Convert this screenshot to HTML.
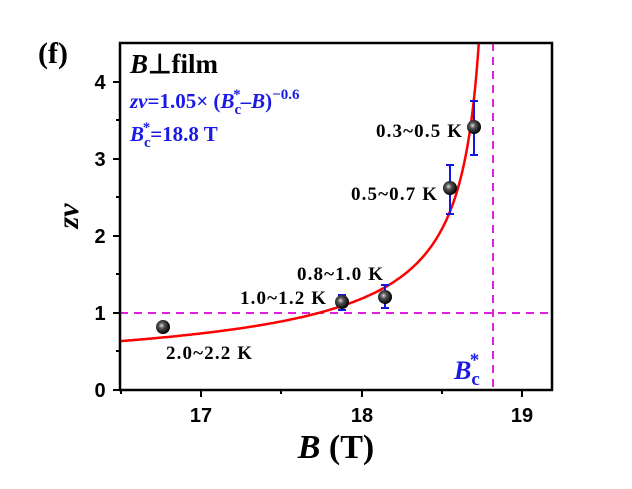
<!DOCTYPE html>
<html><head><meta charset="utf-8"><style>
body{margin:0;background:#fff;width:632px;height:484px;overflow:hidden}
svg text{font-family:"Liberation Serif",serif;font-weight:bold}
svg text.s{font-family:"Liberation Sans",sans-serif}
</style></head><body>
<svg width="632" height="484" viewBox="0 0 632 484" xmlns="http://www.w3.org/2000/svg">
<defs><radialGradient id="g" cx="0.4" cy="0.4" r="0.6"><stop offset="0" stop-color="#ddd"/><stop offset="0.35" stop-color="#555"/><stop offset="1" stop-color="#000"/></radialGradient>
<clipPath id="c"><rect x="120" y="43" width="432" height="347"/></clipPath></defs>
<g stroke="#e020e0" stroke-width="2" stroke-dasharray="8,6" fill="none">
<line x1="120" y1="313" x2="552" y2="313"/>
<line x1="493" y1="43" x2="493" y2="390"/>
</g>
<path id="curve" clip-path="url(#c)" fill="none" stroke="#f00" stroke-width="2.5"/>
<g stroke="#1515e0" stroke-width="2">
<line x1="474" y1="101" x2="474" y2="155"/><line x1="470" y1="101" x2="478" y2="101"/><line x1="470" y1="155" x2="478" y2="155"/>
<line x1="450" y1="165" x2="450" y2="214"/><line x1="446" y1="165" x2="454" y2="165"/><line x1="446" y1="214" x2="454" y2="214"/>
<line x1="385" y1="285" x2="385" y2="308"/><line x1="381" y1="285" x2="389" y2="285"/><line x1="381" y1="308" x2="389" y2="308"/>
<line x1="342" y1="295" x2="342" y2="310"/><line x1="338" y1="295" x2="346" y2="295"/><line x1="338" y1="310" x2="346" y2="310"/>
<line x1="163" y1="321" x2="163" y2="332"/>
</g>
<g fill="url(#g)">
<circle cx="474" cy="127" r="7"/><circle cx="450" cy="188" r="7"/><circle cx="385" cy="297" r="7"/><circle cx="342" cy="302" r="7"/><circle cx="163" cy="327" r="7"/>
</g>
<rect x="120" y="43" width="432" height="347" fill="none" stroke="#000" stroke-width="2.5"/>
<g stroke="#000" stroke-width="2">
<line x1="201" y1="390" x2="201" y2="397"/><line x1="362" y1="390" x2="362" y2="397"/><line x1="522" y1="390" x2="522" y2="397"/>
<line x1="281" y1="390" x2="281" y2="394"/><line x1="442" y1="390" x2="442" y2="394"/><line x1="121" y1="390" x2="121" y2="394"/>
<line x1="113" y1="390" x2="120" y2="390"/><line x1="113" y1="313" x2="120" y2="313"/><line x1="113" y1="236" x2="120" y2="236"/><line x1="113" y1="159" x2="120" y2="159"/><line x1="113" y1="82" x2="120" y2="82"/>
<line x1="116" y1="351" x2="120" y2="351"/><line x1="116" y1="274" x2="120" y2="274"/><line x1="116" y1="197" x2="120" y2="197"/><line x1="116" y1="120" x2="120" y2="120"/>
</g>
<g font-size="20" text-anchor="middle">
<text class="s" x="201" y="422">17</text><text class="s" x="362" y="422">18</text><text class="s" x="522" y="422">19</text>
<text class="s" x="100" y="397">0</text><text class="s" x="100" y="320">1</text><text class="s" x="100" y="243">2</text><text class="s" x="100" y="166">3</text><text class="s" x="100" y="89">4</text>
</g>
<text x="38" y="63" font-size="30">(f)</text>
<text x="130" y="73" font-size="27"><tspan font-style="italic">B</tspan>⊥film</text>
<text x="130" y="108" font-size="21" fill="#1a1ae6"><tspan font-style="italic">zν</tspan>=1.05× (<tspan font-style="italic">B</tspan><tspan font-size="15" dy="6">c</tspan><tspan font-size="15" dx="-8" dy="-15">*</tspan><tspan dy="9">–</tspan><tspan font-style="italic">B</tspan>)<tspan font-size="15" dy="-9">−0.6</tspan></text>
<text x="130" y="141" font-size="21" fill="#1a1ae6"><tspan font-style="italic">B</tspan><tspan font-size="15" dy="6">c</tspan><tspan font-size="15" dx="-8" dy="-15">*</tspan><tspan dy="9">=18.8 T</tspan></text>
<text x="454" y="379" font-size="26" fill="#1a1ae6"><tspan font-style="italic">B</tspan><tspan font-size="19" dy="6">c</tspan><tspan font-size="19" dx="-10" dy="-19">*</tspan></text>
<g font-size="19">
<text x="376" y="137" textLength="86">0.3~0.5 K</text>
<text x="351" y="200" textLength="86">0.5~0.7 K</text>
<text x="297" y="280" textLength="86">0.8~1.0 K</text>
<text x="240" y="304" textLength="86">1.0~1.2 K</text>
<text x="166" y="359" textLength="86">2.0~2.2 K</text>
</g>
<text x="336" y="458" font-size="34" text-anchor="middle"><tspan font-style="italic">B</tspan> (T)</text>
<text transform="translate(78,216) rotate(-90)" font-size="30" text-anchor="middle" font-style="italic">zν</text>
</svg>
<script>
var d="";for(var px=120;px<=480;px+=1){var y=1.05*Math.pow((493-px)/161,-0.6);var py=390-77*y;if(py<30)py=30;d+=(d?"L":"M")+px+","+py.toFixed(1);}
document.getElementById("curve").setAttribute("d",d);
</script>
</body></html>
